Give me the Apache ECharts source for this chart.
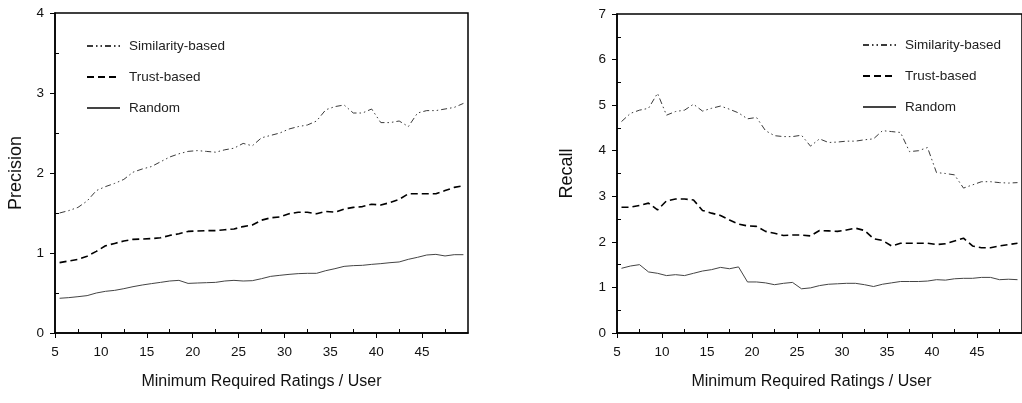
<!DOCTYPE html>
<html>
<head>
<meta charset="utf-8">
<script src="https://cdn.jsdelivr.net/npm/echarts@6/dist/echarts.min.js"></script>
<style>
  html, body { margin: 0; padding: 0; background: #fff; }
  #chart { width: 1022px; height: 403px; }
</style>
</head>
<body>
<div id="chart"></div>
<script>
// Minimum required ratings per user (x positions of the measured points)
const minRatings = [5.5, 6.5, 7.5, 8.5, 9.5, 10.5, 11.5, 12.5, 13.5, 14.5,
  15.5, 16.5, 17.5, 18.5, 19.5, 20.5, 21.5, 22.5, 23.5, 24.5,
  25.5, 26.5, 27.5, 28.5, 29.5, 30.5, 31.5, 32.5, 33.5, 34.5,
  35.5, 36.5, 37.5, 38.5, 39.5, 40.5, 41.5, 42.5, 43.5, 44.5,
  45.5, 46.5, 47.5, 48.5, 49.5];

// Precision
const precisionSimilarity = [1.50, 1.53, 1.57, 1.65, 1.78, 1.83, 1.87, 1.92, 2.01, 2.05,
  2.08, 2.14, 2.20, 2.24, 2.27, 2.28, 2.27, 2.26, 2.29, 2.31,
  2.37, 2.34, 2.44, 2.47, 2.50, 2.55, 2.58, 2.60, 2.65, 2.79,
  2.83, 2.85, 2.75, 2.75, 2.80, 2.63, 2.63, 2.65, 2.58, 2.75,
  2.78, 2.78, 2.80, 2.82, 2.87];
const precisionTrust = [0.88, 0.90, 0.92, 0.96, 1.02, 1.09, 1.12, 1.15, 1.17, 1.175,
  1.18, 1.19, 1.22, 1.24, 1.27, 1.275, 1.28, 1.28, 1.29, 1.30,
  1.33, 1.35, 1.41, 1.44, 1.45, 1.49, 1.51, 1.51, 1.49, 1.52,
  1.51, 1.55, 1.57, 1.58, 1.61, 1.60, 1.63, 1.67, 1.74, 1.74,
  1.74, 1.74, 1.78, 1.82, 1.84];
const precisionRandom = [0.434, 0.442, 0.454, 0.467, 0.50, 0.521, 0.533, 0.554, 0.579, 0.60,
  0.617, 0.633, 0.65, 0.658, 0.62, 0.625, 0.629, 0.633, 0.65, 0.658,
  0.65, 0.654, 0.679, 0.708, 0.721, 0.733, 0.742, 0.746, 0.746, 0.779,
  0.804, 0.833, 0.842, 0.846, 0.858, 0.867, 0.879, 0.888, 0.921, 0.946,
  0.975, 0.983, 0.963, 0.979, 0.979];

// Recall
const recallSimilarity = [4.64, 4.82, 4.89, 4.93, 5.26, 4.78, 4.86, 4.89, 5.02, 4.87,
  4.93, 4.98, 4.91, 4.83, 4.70, 4.73, 4.44, 4.33, 4.31, 4.31,
  4.34, 4.10, 4.26, 4.18, 4.19, 4.21, 4.21, 4.24, 4.26, 4.44,
  4.42, 4.40, 3.98, 4.00, 4.07, 3.52, 3.50, 3.47, 3.18, 3.25,
  3.32, 3.32, 3.30, 3.29, 3.30];
const recallTrust = [2.76, 2.76, 2.80, 2.85, 2.70, 2.90, 2.94, 2.94, 2.92, 2.69,
  2.63, 2.58, 2.48, 2.39, 2.35, 2.34, 2.23, 2.19, 2.14, 2.15,
  2.15, 2.13, 2.25, 2.24, 2.23, 2.26, 2.30, 2.25, 2.07, 2.03,
  1.91, 1.97, 1.97, 1.97, 1.97, 1.94, 1.96, 2.02, 2.08, 1.91,
  1.87, 1.87, 1.91, 1.94, 1.97];
const recallRandom = [1.42, 1.47, 1.50, 1.34, 1.31, 1.26, 1.28, 1.26, 1.31, 1.36,
  1.39, 1.44, 1.41, 1.45, 1.12, 1.12, 1.10, 1.06, 1.09, 1.11,
  0.97, 0.99, 1.04, 1.07, 1.08, 1.09, 1.09, 1.06, 1.02, 1.07,
  1.10, 1.13, 1.13, 1.13, 1.14, 1.17, 1.16, 1.19, 1.20, 1.20,
  1.22, 1.22, 1.17, 1.18, 1.17];

// Axis tick positions
const xTicks = [5, 10, 15, 20, 25, 30, 35, 40, 45, 50];
const xMinorTicks = [7.5, 12.5, 17.5, 22.5, 27.5, 32.5, 37.5, 42.5, 47.5];
const precisionMinorTicks = [0.5, 1.5, 2.5, 3.5];
const recallMinorTicks = [0.5, 1.5, 2.5, 3.5, 4.5, 5.5, 6.5];

const seriesNames = ['Similarity-based', 'Trust-based', 'Random'];
const xTitle = 'Minimum Required Ratings / User';

const FONT = 'Liberation Sans, Arial, Helvetica, sans-serif';
const INK = '#111';

const styles = {
  'Similarity-based': { color: '#3a3a3a', width: 1, type: [6, 3, 1.5, 3, 1.5, 3] },
  'Trust-based': { color: '#000', width: 1.6, type: [7, 4] },
  'Random': { color: '#444', width: 1, type: 'solid' }
};

function pairs(values) {
  return values.map((v, i) => [minRatings[i], v]);
}

function mainX(gridIndex) {
  return {
    type: 'value', gridIndex, position: 'bottom',
    min: 5, max: 50, interval: 5,
    name: xTitle, nameLocation: 'middle', nameGap: 41,
    nameTextStyle: { fontFamily: FONT, fontSize: 16, color: INK,
      padding: gridIndex === 1 ? [0, 16, 0, 0] : 0 },
    axisLine: { show: true, lineStyle: { color: '#000', width: 1.5 } },
    axisTick: { show: true, inside: false, length: 5, lineStyle: { color: '#000', width: 1 } },
    axisLabel: { showMaxLabel: false, margin: 12, fontFamily: FONT, fontSize: 13.5, color: INK },
    splitLine: { show: false }
  };
}
function minorX(gridIndex) {
  return {
    type: 'value', gridIndex, position: 'bottom',
    min: 5, max: 50, interval: 5,
    axisLine: { show: false },
    axisTick: { show: true, inside: true, length: 4, customValues: xMinorTicks,
      lineStyle: { color: '#000', width: 1 } },
    axisLabel: { show: false },
    splitLine: { show: false }
  };
}
function mainY(gridIndex, max, name, gap) {
  return {
    type: 'value', gridIndex, position: 'left',
    min: 0, max, interval: 1,
    name, nameLocation: 'middle', nameGap: gap,
    nameTextStyle: { fontFamily: FONT, fontSize: 18, color: INK },
    axisLine: { show: true, lineStyle: { color: '#000', width: 1.5 } },
    axisTick: { show: true, inside: false, length: 5, lineStyle: { color: '#000', width: 1 } },
    axisLabel: { margin: 11, fontFamily: FONT, fontSize: 13.5, color: INK },
    splitLine: { show: false }
  };
}
function minorY(gridIndex, max, ticks) {
  return {
    type: 'value', gridIndex, position: 'left',
    min: 0, max, interval: 1,
    axisLine: { show: false },
    axisTick: { show: true, inside: true, length: 4, customValues: ticks,
      lineStyle: { color: '#000', width: 1 } },
    axisLabel: { show: false },
    splitLine: { show: false }
  };
}

function lineSeries(name, values, axisIndex) {
  const s = styles[name];
  return {
    type: 'line', name,
    xAxisIndex: axisIndex, yAxisIndex: axisIndex,
    data: pairs(values),
    symbol: 'none', showSymbol: false,
    lineStyle: { color: s.color, width: s.width, type: s.type },
    itemStyle: { color: s.color },
    animation: false, silent: true
  };
}

function legendAt(left, top) {
  return {
    orient: 'vertical', left, top,
    data: seriesNames,
    itemWidth: 33, itemHeight: 14, itemGap: 17,
    selectedMode: false,
    itemStyle: { opacity: 0 },
    textStyle: { fontFamily: FONT, fontSize: 13.5, color: '#222', padding: [0, 0, 0, 4] }
  };
}

const chart = echarts.init(document.getElementById('chart'), null, { renderer: 'canvas' });

chart.setOption({
  animation: false,
  backgroundColor: '#fff',
  grid: [
    { left: 55, top: 13, right: 554, bottom: 70, show: true, borderColor: '#000', borderWidth: 1.5 },
    { left: 617, top: 14, right: -8, bottom: 70, show: true, borderColor: '#000', borderWidth: 1.5 }
  ],
  xAxis: [mainX(0), mainX(1), minorX(0), minorX(1)],
  yAxis: [
    mainY(0, 4, 'Precision', 30),
    mainY(1, 7, 'Recall', 41),
    minorY(0, 4, precisionMinorTicks),
    minorY(1, 7, recallMinorTicks)
  ],
  legend: [legendAt(81, 34), legendAt(857, 33)],
  series: [
    lineSeries('Similarity-based', precisionSimilarity, 0),
    lineSeries('Trust-based', precisionTrust, 0),
    lineSeries('Random', precisionRandom, 0),
    lineSeries('Similarity-based', recallSimilarity, 1),
    lineSeries('Trust-based', recallTrust, 1),
    lineSeries('Random', recallRandom, 1)
  ]
});
</script>
</body>
</html>
